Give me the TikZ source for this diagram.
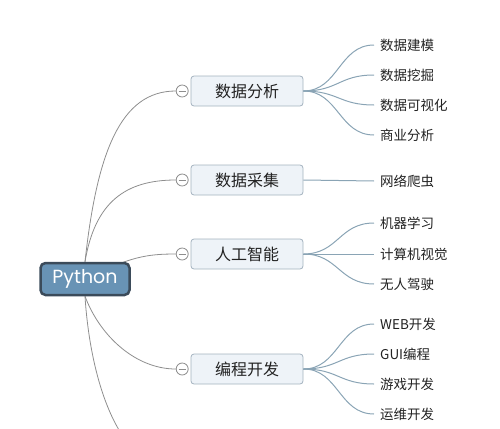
\documentclass[tikz,border=0pt]{standalone}
\usepackage{fontspec}
\newfontfamily\cjk{Noto Sans CJK SC}
\newfontfamily\pyfont{Poppins}
\usetikzlibrary{
    positioning,
    backgrounds
}
\definecolor{rootfill}{HTML}{6893B5}
\definecolor{rootline}{HTML}{3B4B5A}
\definecolor{topicfill}{HTML}{EEF3F8}
\definecolor{topicline}{HTML}{A3B2BF}
\definecolor{branchline}{HTML}{8E8E8E}
\definecolor{twigline}{HTML}{8AA4B5}
\definecolor{ink}{HTML}{222222}
\tikzset{
    % --- Central root node ---
    root/.style = {
        rectangle, rounded corners=5pt, draw=rootline, line width=2.5pt,
        fill=rootfill, minimum width=89pt, minimum height=32pt,
        text=white, font=\pyfont\fontsize{19}{19}\selectfont
    },
    % --- Main topic box ---
    topic/.style = {
        rectangle, rounded corners=3pt, draw=topicline, fill=topicfill,
        line width=0.8pt, minimum width=112pt, minimum height=30pt,
        text=ink, font=\cjk\fontsize{16}{16}\selectfont
    },
    % --- Collapse toggle circle ---
    toggle/.style = {
        circle, draw=branchline, fill=white, line width=0.8pt,
        minimum size=12pt, inner sep=0pt,
        path picture={\draw[branchline, line width=0.8pt]
            ([xshift=-3.5pt]path picture bounding box.center) --
            ([xshift=3.5pt]path picture bounding box.center);}
    },
    % --- Leaf label ---
    leaf/.style = {
        anchor=west, inner ysep=0pt, inner xsep=6pt,
        text=ink, font=\cjk\fontsize{13.5}{13.5}\selectfont
    },
    % --- Root to topic line ---
    branch/.style = {
        draw=branchline, line width=0.8pt
    },
    % --- Topic to leaf line ---
    twig/.style = {
        draw=twigline, line width=1pt
    }
}

\begin{document}
\begin{tikzpicture}[x=1pt, y=-1pt]
\useasboundingbox (0,0) rectangle (500,428);

% ---------------------------------------------------------
% Root and topics
% ---------------------------------------------------------
\node[root] (Root) at (85,279) {Python};

\node[topic] (T1) at (247,91) {数据分析};
\node[topic] (T2) at (247,180) {数据采集};
\node[topic] (T3) at (247,254) {人工智能};
\node[topic] (T4) at (247,369) {编程开发};

\node[toggle, left=2pt of T1] (C1) {};
\node[toggle, left=2pt of T2] (C2) {};
\node[toggle, left=2pt of T3] (C3) {};
\node[toggle, left=2pt of T4] (C4) {};
\coordinate (C5) at (177,470);

% ---------------------------------------------------------
% Leaves
% ---------------------------------------------------------
\node[leaf] (L11) at (374,45) {数据建模};
\node[leaf] (L12) at (374,75) {数据挖掘};
\node[leaf] (L13) at (374,105) {数据可视化};
\node[leaf] (L14) at (374,135) {商业分析};

\node[leaf] (L21) at (374,181) {网络爬虫};

\node[leaf] (L31) at (374,223) {机器学习};
\node[leaf] (L32) at (374,254) {计算机视觉};
\node[leaf] (L33) at (374,284) {无人驾驶};

\node[leaf] (L41) at (374,324) {WEB开发};
\node[leaf] (L42) at (374,354) {GUI编程};
\node[leaf] (L43) at (374,384) {游戏开发};
\node[leaf] (L44) at (374,414) {运维开发};

% ---------------------------------------------------------
% Branches from root (behind the nodes)
% ---------------------------------------------------------
\begin{scope}[on background layer]
\clip (0,0) rectangle (500,428);
\draw[branch] (Root.north) .. controls +(12,-110) and +(-55,0) .. (C1.west);
\draw[branch] (Root.north) .. controls +(10,-60) and +(-50,0) .. (C2.west);
\draw[branch] (Root.center) .. controls +(45,-22) and +(-30,0) .. (C3.west);
\draw[branch] (Root.south) .. controls +(15,40) and +(-40,0) .. (C4.west);
\draw[branch] (Root.south) .. controls +(5,80) and +(-60,0) .. (C5);
\end{scope}

% ---------------------------------------------------------
% Twigs from topics to leaves
% ---------------------------------------------------------
\foreach \t/\l in {T1/L11, T1/L12, T1/L13, T1/L14, T2/L21,
                   T3/L31, T3/L32, T3/L33,
                   T4/L41, T4/L42, T4/L43, T4/L44}
    \draw[twig] (\t.east) .. controls +(35,0) and +(-35,0) .. (\l.west);

\end{tikzpicture}
\end{document}
